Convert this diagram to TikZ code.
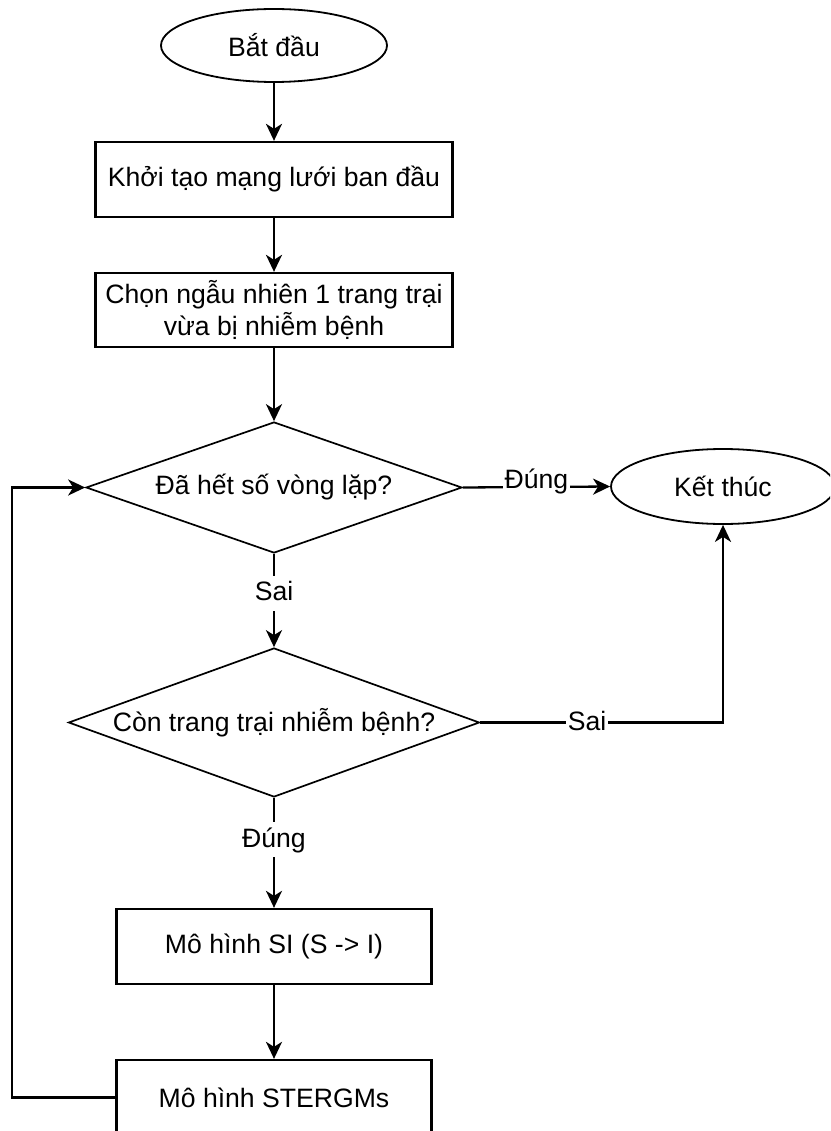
\documentclass[tikz,border=0pt]{standalone}
\usepackage{fontspec}
\setmainfont{Liberation Sans}
\usetikzlibrary{shapes.geometric,arrows.meta}
\begin{document}
\begin{tikzpicture}[x=1pt,y=-1pt,
  font=\fontsize{26.6}{32}\selectfont,
  shapeline/.style={draw=black,line width=1.8pt,fill=white,inner sep=0pt,align=center},
  procbox/.style={shapeline,rectangle,line width=2.3pt},
  terminal/.style={shapeline,ellipse},
  decision/.style={shapeline,diamond,line width=1.7pt},
  flow/.style={draw=black,line width=2.3pt,-{Stealth[length=17pt,width=16pt,inset=5pt]}},
  flowlabel/.style={fill=white,inner xsep=1.5pt,inner ysep=3pt,text height=22pt,text depth=7pt}]
  \clip (0,0) rectangle (830,1131);
  \fill[white] (0,0) rectangle (830,1131);

  % shapes of the flowchart
  \node[terminal,minimum width=226pt,minimum height=73pt] (start) at (274,45.5) {Bắt đầu};
  \node[procbox,minimum width=357pt,minimum height=75pt] (init) at (274,179.5) {Khởi tạo mạng lưới ban đầu};
  \node[procbox,minimum width=357pt,minimum height=74pt] (pick) at (274,310) {Chọn ngẫu nhiên 1 trang trại\\vừa bị nhiễm bệnh};
  \node[decision,minimum width=376pt,minimum height=131pt] (loop) at (274,487.5) {\makebox[0pt]{Đã hết số vòng lặp?}};
  \node[terminal,minimum width=224pt,minimum height=75pt] (stop) at (723,486.5) {Kết thúc};
  \node[decision,minimum width=411pt,minimum height=149pt] (left) at (274,722.5) {\makebox[0pt]{Còn trang trại nhiễm bệnh?}};
  \node[procbox,minimum width=315pt,minimum height=75pt] (si) at (274,946.5) {Mô hình SI (S -> I)};
  \node[procbox,minimum width=315pt,minimum height=75pt] (stergm) at (274,1097.5) {Mô hình STERGMs};
  \coordinate (back) at (12,1097.5);

  % connectors
  \draw[flow] (start) -- (init);
  \draw[flow] (init) -- (pick);
  \draw[flow] (pick) -- (loop.north);
  \draw[flow] (loop.east) -- node[flowlabel,yshift=6pt] {Đúng} (stop.west);
  \draw[flow] (loop.south) -- node[flowlabel,pos=0.42] {Sai} (left.north);
  \draw[flow] (left.east) -| node[flowlabel,pos=0.22] {Sai} (stop.south);
  \draw[flow] (left.south) -- node[flowlabel,pos=0.38] {Đúng} (si.north);
  \draw[flow] (si) -- (stergm);
  \draw[flow] (stergm.west) -- (back) |- (loop.west);
\end{tikzpicture}
\end{document}
